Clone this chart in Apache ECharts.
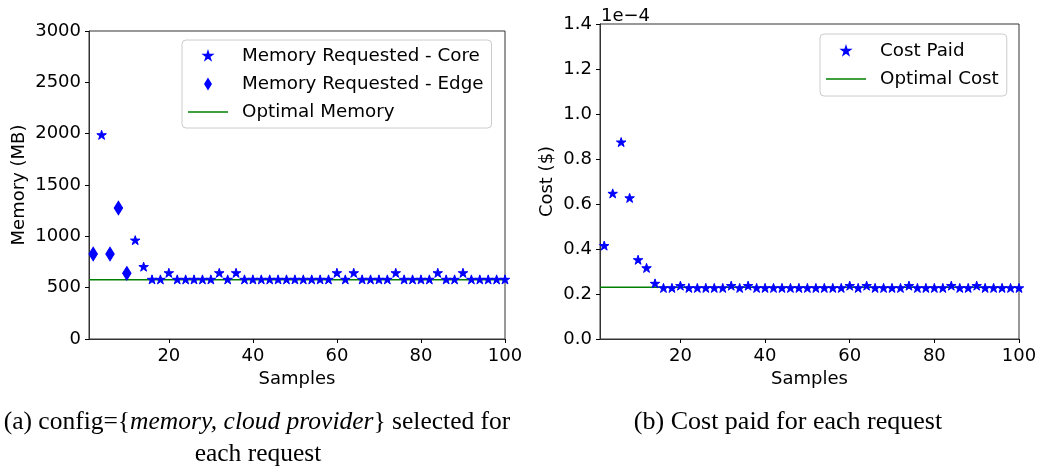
<!DOCTYPE html>
<html>
<head>
<meta charset="utf-8">
<script src="https://cdn.jsdelivr.net/npm/echarts@6/dist/echarts.min.js"></script>
<style>
html,body{margin:0;padding:0;background:#fff;}
#c{width:1047px;height:472px;}
</style>
</head>
<body>
<div id="c"></div>
<script>
// ---- data ----
const samples = [2,4,6,8,10,12,14,16,18,20,22,24,26,28,30,32,34,36,38,40,42,44,46,48,50,52,54,56,58,60,62,64,66,68,70,72,74,76,78,80,82,84,86,88,90,92,94,96,98,100];
const memoryCore = [null,1984,null,null,null,958,700,576,576,640,576,576,576,576,576,640,576,640,576,576,576,576,576,576,576,576,576,576,576,640,576,640,576,576,576,576,640,576,576,576,576,640,576,576,640,576,576,576,576,576];
const memoryEdge = [828,null,828,1276,640,null,null,null,null,null,null,null,null,null,null,null,null,null,null,null,null,null,null,null,null,null,null,null,null,null,null,null,null,null,null,null,null,null,null,null,null,null,null,null,null,null,null,null,null,null];
const optimalMemory = 576;
const costPaid = [0.413,0.645,0.873,0.625,0.350,0.314,0.245,0.225,0.225,0.235,0.225,0.225,0.225,0.225,0.225,0.235,0.225,0.235,0.225,0.225,0.225,0.225,0.225,0.225,0.225,0.225,0.225,0.225,0.225,0.235,0.225,0.235,0.225,0.225,0.225,0.225,0.235,0.225,0.225,0.225,0.225,0.235,0.225,0.225,0.235,0.225,0.225,0.225,0.225,0.225];
const optimalCost = 0.23;
const xRange = [1, 100];
const xTicks = [20, 40, 60, 80, 100];
const memTicks = [0, 3000, 500];
const costTicks = [0, 1.4, 0.2];

// ---- helpers ----
function pairs(xs, ys) {
  const out = [];
  xs.forEach((x, i) => { if (ys[i] != null) out.push([x, ys[i]]); });
  return out;
}
const STAR = 'path://M100,0 L122.45,69.1 L195.11,69.1 L136.33,111.8 L158.78,180.9 L100,138.2 L41.22,180.9 L63.67,111.8 L4.89,69.1 L77.55,69.1 Z M100,200 L100,200';
const STAR_LEG = 'path://M100,0 L122.45,69.1 L195.11,69.1 L136.33,111.8 L158.78,180.9 L100,138.2 L41.22,180.9 L63.67,111.8 L4.89,69.1 L77.55,69.1 Z M100,-20 L100,-20 M100,220 L100,220';
const DIAM = 'path://M50,0 L100,80 L50,160 L0,80 Z';
const LINE_LEG = 'path://M0,0 L400,0 L400,15 L0,15 Z';
const FONT = 'DejaVu Sans';
const BLUE = '#0000ff';
const GREEN = '#008000';

function xAxisCfg(gi) {
  return {
    gridIndex: gi, type: 'value', min: xRange[0], max: xRange[1],
    name: 'Samples', nameLocation: 'middle', nameGap: 30,
    nameTextStyle: { fontFamily: FONT, fontSize: 18, color: '#000' },
    axisLine: { show: true, lineStyle: { color: '#333', width: 1 } },
    axisTick: { show: true, length: 4, customValues: xTicks, lineStyle: { color: '#000' } },
    axisLabel: { customValues: xTicks, margin: 8, fontFamily: FONT, fontSize: 18, color: '#000' },
    splitLine: { show: false }
  };
}
function yAxisCfg(gi, t, name, gap, fmt) {
  return {
    gridIndex: gi, type: 'value', min: t[0], max: t[1], interval: t[2],
    name: name, nameLocation: 'middle', nameGap: gap,
    nameTextStyle: { fontFamily: FONT, fontSize: 18, color: '#000' },
    axisLine: { show: true, lineStyle: { color: '#333', width: 1 } },
    axisTick: { show: true, length: 4, lineStyle: { color: '#000' } },
    axisLabel: { margin: 8, fontFamily: FONT, fontSize: 18, color: '#000', formatter: fmt },
    splitLine: { show: false }
  };
}
const legendBase = {
  orient: 'vertical', align: 'left',
  itemWidth: 40, itemHeight: 9, itemGap: 10,
  borderColor: '#cccccc', borderWidth: 1, borderRadius: 4,
  backgroundColor: 'rgba(255,255,255,0.8)',
  textStyle: { fontFamily: FONT, fontSize: 18.3, color: '#000', padding: [0, 0, 0, 9] },
  selectedMode: false
};

const chart = echarts.init(document.getElementById('c'), null, { renderer: 'canvas' });
chart.setOption({
  animation: false,
  backgroundColor: '#fff',
  grid: [
    { left: 89, top: 31, width: 416, height: 308, show: true, borderColor: '#333', borderWidth: 1, outerBoundsMode: 'none', containLabel: false },
    { left: 600, top: 24, width: 419, height: 315, show: true, borderColor: '#333', borderWidth: 1, outerBoundsMode: 'none', containLabel: false }
  ],
  xAxis: [xAxisCfg(0), xAxisCfg(1)],
  yAxis: [
    yAxisCfg(0, memTicks, 'Memory (MB)', 61, v => String(v)),
    yAxisCfg(1, costTicks, 'Cost ($)', 44, v => v.toFixed(1))
  ],
  legend: [
    Object.assign({}, legendBase, {
      left: 182, top: 40, padding: [7, 8, 7, 6],
      data: [
        { name: 'Memory Requested - Core', icon: STAR_LEG },
        { name: 'Memory Requested - Edge', icon: DIAM },
        { name: 'Optimal Memory', icon: LINE_LEG }
      ]
    }),
    Object.assign({}, legendBase, {
      left: 820, top: 34, padding: [8, 8, 8, 6],
      data: [
        { name: 'Cost Paid', icon: STAR_LEG },
        { name: 'Optimal Cost', icon: LINE_LEG }
      ]
    })
  ],
  series: [
    {
      name: 'Optimal Memory', type: 'line', xAxisIndex: 0, yAxisIndex: 0,
      data: [[xRange[0], optimalMemory], [xRange[1], optimalMemory]],
      symbol: 'none', lineStyle: { color: GREEN, width: 1.5 }, itemStyle: { color: GREEN }, z: 2
    },
    {
      name: 'Memory Requested - Core', type: 'scatter', xAxisIndex: 0, yAxisIndex: 0,
      data: pairs(samples, memoryCore), symbol: STAR, symbolSize: 10, symbolKeepAspect: true,
      itemStyle: { color: BLUE, opacity: 1, borderColor: BLUE, borderWidth: 1 }, z: 3
    },
    {
      name: 'Memory Requested - Edge', type: 'scatter', xAxisIndex: 0, yAxisIndex: 0,
      data: pairs(samples, memoryEdge), symbol: DIAM, symbolSize: [8.5, 13.5], symbolKeepAspect: false,
      itemStyle: { color: BLUE, opacity: 1, borderColor: BLUE, borderWidth: 1 }, z: 3
    },
    {
      name: 'Optimal Cost', type: 'line', xAxisIndex: 1, yAxisIndex: 1,
      data: [[xRange[0], optimalCost], [xRange[1], optimalCost]],
      symbol: 'none', lineStyle: { color: GREEN, width: 1.5 }, itemStyle: { color: GREEN }, z: 2
    },
    {
      name: 'Cost Paid', type: 'scatter', xAxisIndex: 1, yAxisIndex: 1,
      data: pairs(samples, costPaid), symbol: STAR, symbolSize: 10, symbolKeepAspect: true,
      itemStyle: { color: BLUE, opacity: 1, borderColor: BLUE, borderWidth: 1 }, z: 3
    }
  ],
  graphic: [
    { type: 'text', left: 601, top: 7, style: { text: '1e\u22124', font: '18px "DejaVu Sans"', fill: '#000' } },
    { type: 'text', x: 257, y: 422, style: {
        text: '(a) config={{i|memory, cloud provider}} selected for',
        font: '25.5px "Liberation Serif"', fill: '#000', align: 'center', verticalAlign: 'middle',
        rich: { i: { fontFamily: 'Liberation Serif', fontSize: 25.5, fontStyle: 'italic', fill: '#000' } }
    } },
    { type: 'text', x: 258, y: 454, style: { text: 'each request', font: '25.5px "Liberation Serif"', fill: '#000', align: 'center', verticalAlign: 'middle' } },
    { type: 'text', x: 788, y: 422, style: { text: '(b) Cost paid for each request', font: '26px "Liberation Serif"', fill: '#000', align: 'center', verticalAlign: 'middle' } }
  ]
});
</script>
</body>
</html>
